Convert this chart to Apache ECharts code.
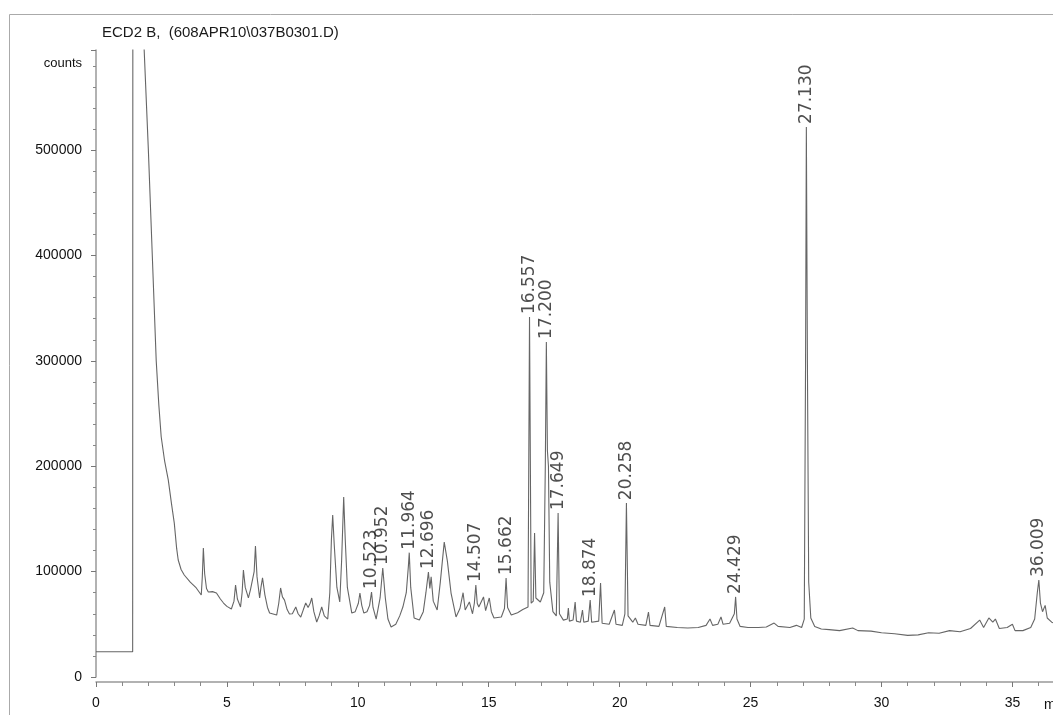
<!DOCTYPE html>
<html>
<head>
<meta charset="utf-8">
<title>ECD2 B chromatogram</title>
<script src="https://cdn.jsdelivr.net/npm/echarts@6/dist/echarts.min.js"></script>
<style>
    html, body { margin: 0; padding: 0; background: #fff; }
    #chart { width: 1053px; height: 715px; }
</style>
</head>
<body>
<div id="chart"></div>
<script>
// retention time (min) of the detector trace
var traceTime = [
    0.00, 1.40, 1.41, 1.50, 1.75, 1.84, 2.00, 2.15, 2.30, 2.40, 2.49, 2.62, 2.76, 2.88, 2.99, 3.08, 3.14, 3.25, 3.37, 3.60,
    3.83, 4.02, 4.06, 4.10, 4.15, 4.22, 4.29, 4.45, 4.60, 4.75, 4.87, 5.00, 5.17, 5.27, 5.33, 5.40, 5.52, 5.58, 5.63, 5.70,
    5.76, 5.82, 5.90, 5.97, 6.04, 6.09, 6.15, 6.25, 6.30, 6.36, 6.45, 6.55, 6.63, 6.90, 6.98, 7.05, 7.12, 7.20, 7.30, 7.39,
    7.50, 7.63, 7.72, 7.82, 7.92, 8.01, 8.10, 8.18, 8.24, 8.32, 8.43, 8.52, 8.62, 8.72, 8.85, 8.93, 8.99, 9.04, 9.10, 9.20,
    9.31, 9.38, 9.46, 9.52, 9.60, 9.77, 9.90, 10.02, 10.08, 10.15, 10.23, 10.35, 10.45, 10.523, 10.58, 10.70, 10.85, 10.952, 11.05, 11.15,
    11.27, 11.45, 11.60, 11.72, 11.85, 11.93, 11.964, 12.02, 12.15, 12.35, 12.50, 12.60, 12.696, 12.75, 12.80, 12.88, 13.03, 13.15, 13.30, 13.42,
    13.56, 13.75, 13.90, 14.02, 14.10, 14.26, 14.38, 14.45, 14.507, 14.56, 14.62, 14.80, 14.88, 15.02, 15.10, 15.20, 15.48, 15.60, 15.662, 15.72,
    15.86, 16.10, 16.30, 16.50, 16.557, 16.62, 16.70, 16.75, 16.80, 16.97, 17.10, 17.16, 17.20, 17.24, 17.28, 17.33, 17.45, 17.58, 17.649, 17.70,
    17.85, 18.00, 18.04, 18.08, 18.22, 18.30, 18.35, 18.50, 18.58, 18.63, 18.80, 18.874, 18.93, 19.20, 19.27, 19.33, 19.60, 19.80, 19.86, 20.10,
    20.20, 20.258, 20.32, 20.50, 20.60, 20.70, 21.00, 21.10, 21.16, 21.50, 21.72, 21.78, 22.20, 22.60, 23.00, 23.30, 23.45, 23.55, 23.75, 23.87,
    23.95, 24.20, 24.38, 24.429, 24.48, 24.60, 24.90, 25.30, 25.60, 25.90, 26.05, 26.50, 26.75, 26.95, 27.05, 27.10, 27.13, 27.17, 27.22, 27.30,
    27.45, 27.70, 28.00, 28.40, 28.90, 29.10, 29.60, 30.00, 30.50, 31.00, 31.40, 31.80, 32.20, 32.60, 33.00, 33.40, 33.75, 33.90, 34.10, 34.25,
    34.35, 34.50, 34.80, 35.00, 35.10, 35.40, 35.70, 35.85, 35.95, 36.009, 36.07, 36.15, 36.25, 36.33, 36.50, 36.70
];
// detector signal (counts), same order as traceTime
var traceCounts = [
    24000, 24000, 900000, 1500000, 700000, 595000, 500000, 400000, 300000, 258000, 228000, 205000, 187000, 165000, 146000, 122000, 111000, 102000, 96800, 90000,
    84500, 77800, 95000, 122400, 98000, 84000, 80700, 81000, 79700, 74000, 70200, 67000, 64500, 72000, 87300, 74000, 66400, 80000, 101500, 85000,
    80000, 75000, 83000, 82000, 100000, 124300, 95000, 75000, 85000, 94000, 78000, 66000, 60700, 58800, 70000, 84500, 76000, 73000, 64000, 59800,
    60000, 66400, 60000, 56900, 64000, 70200, 66000, 70000, 75000, 62000, 52200, 58000, 66400, 58000, 55000, 80000, 130000, 153700, 125000, 85000,
    71200, 110000, 170800, 130000, 85000, 60700, 62000, 70000, 79700, 68000, 60700, 62000, 68000, 80700, 66000, 55000, 75000, 103400, 75000, 55000,
    47500, 50000, 58000, 66400, 80000, 105000, 118000, 85000, 56000, 54000, 62000, 80000, 99600, 84000, 95000, 72000, 63600, 90000, 128000, 110000,
    79700, 57000, 65000, 80000, 63600, 71200, 60000, 70000, 87300, 70000, 66400, 76000, 63000, 75000, 62000, 56000, 57000, 65000, 94000, 66000,
    58800, 61000, 64000, 66400, 341600, 70000, 72000, 136700, 75000, 71200, 80000, 200000, 318000, 215000, 200000, 90000, 62000, 58000, 155600, 60000,
    54000, 55000, 65500, 53000, 54000, 71200, 53000, 52000, 63600, 52000, 53000, 73000, 52000, 53000, 89200, 51000, 50000, 63600, 50000, 49000,
    60000, 165000, 58000, 52000, 56000, 50000, 49000, 61700, 49000, 48000, 66400, 48000, 47000, 46500, 47000, 49000, 55000, 49000, 50000, 57000,
    50000, 51000, 60000, 76000, 55000, 48000, 47000, 47000, 47500, 51200, 48000, 47000, 49000, 47000, 55000, 300000, 522000, 300000, 90000, 56000,
    48000, 45500, 45000, 44000, 46500, 44000, 43500, 42000, 41000, 39500, 40000, 42000, 41500, 44000, 43000, 46000, 54000, 47000, 56000, 52000,
    55000, 46000, 47000, 50000, 44000, 44000, 47000, 55000, 80000, 92000, 70000, 62000, 68000, 56000, 52000, 50000
];
// labelled peaks
var peakNames = ['10.523', '10.952', '11.964', '12.696', '14.507', '15.662', '16.557', '17.200', '17.649', '18.874', '20.258', '24.429', '27.130', '36.009'];
var peakCounts = [80700, 103400, 118000, 99600, 87300, 94000, 341600, 318000, 155600, 73000, 165000, 76000, 522000, 92000];
var yTicks = [0, 100000, 200000, 300000, 400000, 500000];
var xTicks = [0, 5, 10, 15, 20, 25, 30, 35];

var chart = echarts.init(document.getElementById('chart'));

var traceData = [];
for (var i = 0; i < traceTime.length; i++) {
    traceData.push([traceTime[i], traceCounts[i]]);
}
var peakData = [];
for (var j = 0; j < peakNames.length; j++) {
    peakData.push([parseFloat(peakNames[j]), peakCounts[j]]);
}

var labelFont = 'Liberation Sans';
var option = {
    animation: false,
    backgroundColor: '#fff',
    title: {
        text: 'ECD2 B,  (608APR10\\037B0301.D)',
        left: 97,
        top: 20,
        textStyle: { fontFamily: labelFont, fontSize: 15, fontWeight: 'normal', color: '#1a1a1a' }
    },
    graphic: [
        {   // outer frame
            type: 'rect',
            shape: { x: 9.5, y: 14.5, width: 1100, height: 800 },
            style: { fill: 'none', stroke: '#aaa', lineWidth: 1 },
            silent: true
        },
        {   // y unit
            type: 'text',
            x: 82,
            y: 63,
            style: {
                text: 'counts',
                font: '13px "Liberation Sans"',
                fill: '#111',
                textAlign: 'right',
                textVerticalAlign: 'middle',
                align: 'right',
                verticalAlign: 'middle'
            }
        }
    ],
    grid: { left: 96, right: 0, top: 50, bottom: 38, containLabel: false, outerBoundsMode: 'none' },
    xAxis: {
        type: 'value',
        min: 0,
        max: 36.55,
        interval: 5,
        offset: 5,
        name: 'min',
        nameLocation: 'end',
        nameGap: -9,
        nameTextStyle: { fontFamily: labelFont, fontSize: 14, color: '#111', align: 'left', verticalAlign: 'top', padding: [16, 0, 0, 0] },
        axisLine: { onZero: false, lineStyle: { color: '#999', width: 1.5 } },
        axisTick: { show: true, length: 5, lineStyle: { color: '#777' } },
        minorTick: { show: true, splitNumber: 5, length: 4, lineStyle: { color: '#888' } },
        splitLine: { show: false },
        axisLabel: {
            margin: 14,
            fontFamily: labelFont,
            fontSize: 14,
            color: '#111',
            formatter: function (v) {
                return xTicks.indexOf(v) > -1 ? String(v) : '';
            }
        }
    },
    yAxis: {
        type: 'value',
        min: 0,
        max: 595000,
        interval: 100000,
        axisLine: { show: true, lineStyle: { color: '#999', width: 1.5 } },
        axisTick: { show: true, length: 5, lineStyle: { color: '#777' } },
        minorTick: { show: true, splitNumber: 5, length: 3, lineStyle: { color: '#888' } },
        splitLine: { show: false },
        axisLabel: {
            margin: 14,
            fontFamily: labelFont,
            fontSize: 14,
            color: '#111',
            formatter: function (v) {
                return yTicks.indexOf(v) > -1 ? String(v) : '';
            }
        }
    },
    series: [
        {
            name: 'ECD2 B',
            type: 'line',
            data: traceData,
            showSymbol: false,
            clip: true,
            lineStyle: { color: '#666', width: 1.1 },
            z: 2
        },
        {   // retention time labels above peaks
            name: 'peaks',
            type: 'scatter',
            data: peakData,
            symbolSize: 0,
            label: {
                show: true,
                position: 'top',
                distance: 3,
                rotate: 90,
                align: 'left',
                verticalAlign: 'middle',
                fontFamily: 'DejaVu Sans',
                fontSize: 17,
                color: '#222',
                formatter: function (p) {
                    return peakNames[p.dataIndex];
                }
            },
            z: 3
        }
    ]
};
chart.setOption(option, true);
</script>
</body>
</html>
